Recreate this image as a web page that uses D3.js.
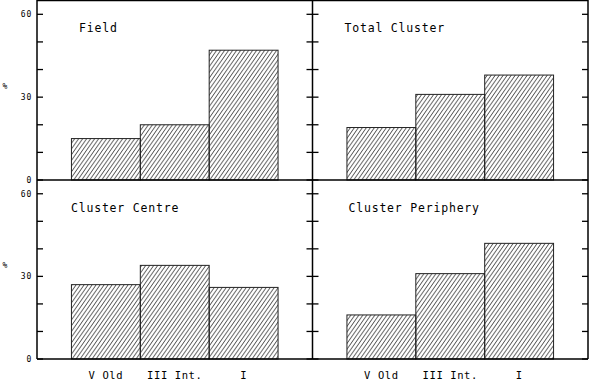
<!DOCTYPE html>
<html>
<head>
<meta charset="utf-8">
<script src="https://cdn.jsdelivr.net/npm/d3@7"></script>
<style>
  body { margin: 0; background: #fff; }
  svg { display: block; }
  text { font-family: "DejaVu Sans Mono", monospace; fill: #000; }
</style>
</head>
<body>
<svg id="chart" width="589" height="380"></svg>
<script>
// data
var categories = ["V Old", "III Int.", "I"];
var fieldValues = [15, 20, 47];
var totalClusterValues = [19, 31, 38];
var centreValues = [27, 34, 26];
var peripheryValues = [16, 31, 42];
var yTicks = [0, 30, 60];
var yMinorTicks = [10, 20, 40, 50];
var titles = ["Field", "Total Cluster", "Cluster Centre", "Cluster Periphery"];

var panels = [
  { title: titles[0], values: fieldValues, col: 0, row: 0, tx: 42 },
  { title: titles[1], values: totalClusterValues, col: 1, row: 0, tx: 32 },
  { title: titles[2], values: centreValues, col: 0, row: 1, tx: 34 },
  { title: titles[3], values: peripheryValues, col: 1, row: 1, tx: 36 }
];

var colX = [37, 312.5, 588];
var rowY = [0.5, 180, 359];

var svg = d3.select("#chart");

// hatch fill: "/" lines, 4px apart horizontally
var hw = 4, hh = 5.7;
var pat = svg.append("defs").append("pattern")
    .attr("id", "hatch")
    .attr("patternUnits", "userSpaceOnUse")
    .attr("width", hw)
    .attr("height", hh);
[-hw, 0, hw].forEach(function(off) {
  pat.append("line")
    .attr("x1", off).attr("y1", hh)
    .attr("x2", off + hw).attr("y2", 0)
    .attr("stroke", "#333")
    .attr("stroke-width", 0.9);
});

panels.forEach(function(p) {
  var x0 = colX[p.col], x1 = colX[p.col + 1];
  var yTop = rowY[p.row], yBot = rowY[p.row + 1];
  var w = x1 - x0;

  var x = d3.scaleBand()
      .domain(categories)
      .range([x0 + w / 8, x1 - w / 8])
      .paddingInner(0);

  var y = d3.scaleLinear()
      .domain([0, 65])
      .range([yBot, yTop]);

  var g = svg.append("g");

  g.selectAll("rect.bar")
    .data(p.values)
    .enter().append("rect")
      .attr("class", "bar")
      .attr("x", function(d, i) { return x(categories[i]); })
      .attr("y", function(d) { return y(d); })
      .attr("width", x.bandwidth())
      .attr("height", function(d) { return y(0) - y(d); })
      .attr("fill", "url(#hatch)")
      .attr("stroke", "#222")
      .attr("stroke-width", 1);

  // ticks, inside both edges
  var allTicks = yTicks.concat(yMinorTicks);
  g.selectAll("line.tl")
    .data(allTicks)
    .enter().append("line")
      .attr("x1", x0).attr("x2", x0 + 6)
      .attr("y1", function(d) { return y(d); })
      .attr("y2", function(d) { return y(d); })
      .attr("stroke", "#000").attr("stroke-width", 1.3);
  g.selectAll("line.tr")
    .data(allTicks)
    .enter().append("line")
      .attr("x1", x1 - 6).attr("x2", x1)
      .attr("y1", function(d) { return y(d); })
      .attr("y2", function(d) { return y(d); })
      .attr("stroke", "#000").attr("stroke-width", 1.3);

  if (p.col == 0) {
    g.selectAll("text.yt")
      .data(yTicks)
      .enter().append("text")
        .attr("x", 32)
        .attr("y", function(d) { return y(d); })
        .attr("dy", "0.35em")
        .attr("text-anchor", "end")
        .attr("font-size", 8)
        .attr("letter-spacing", 0.8)
        .text(function(d) { return d; });
    g.append("text")
      .attr("x", 5)
      .attr("y", y(34))
      .attr("dy", "0.35em")
      .attr("text-anchor", "middle")
      .attr("font-size", 8)
      .text("%");
  }

  g.append("text")
    .attr("x", x0 + p.tx)
    .attr("y", y(53.5))
    .attr("font-size", 11.5)
    .attr("letter-spacing", 0.8)
    .text(p.title);

  if (p.row == 1) {
    g.selectAll("text.xl")
      .data(categories)
      .enter().append("text")
        .attr("x", function(d) { return x(d) + x.bandwidth() / 2; })
        .attr("y", 379)
        .attr("text-anchor", "middle")
        .attr("font-size", 10.5)
        .attr("letter-spacing", 0.6)
        .text(function(d) { return d; });
  }
});

// frame lines
var frame = svg.append("g").attr("stroke", "#000").attr("stroke-width", 1.5).attr("fill", "none");
frame.append("line").attr("x1", colX[0]).attr("x2", colX[2]).attr("y1", rowY[0]).attr("y2", rowY[0]);
frame.append("line").attr("x1", colX[0]).attr("x2", colX[2]).attr("y1", rowY[1]).attr("y2", rowY[1]);
frame.append("line").attr("x1", colX[0]).attr("x2", colX[2]).attr("y1", rowY[2]).attr("y2", rowY[2]);
colX.forEach(function(cx) {
  frame.append("line").attr("x1", cx).attr("x2", cx).attr("y1", 0).attr("y2", rowY[2]);
});
</script>
</body>
</html>
